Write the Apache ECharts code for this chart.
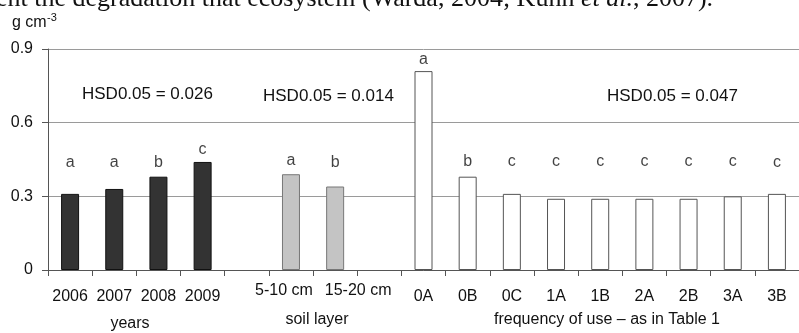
<!DOCTYPE html>
<html>
<head>
<meta charset="utf-8">
<script src="https://cdn.jsdelivr.net/npm/echarts@6/dist/echarts.min.js"></script>
<style>
html,body{margin:0;padding:0;background:#fff;}
#c{width:799px;height:333px;}
</style>
</head>
<body>
<div id="c"></div>
<script>
// ---- data ----
const yearCats = ['2006', '2007', '2008', '2009'];
const yearVals = [0.31, 0.33, 0.38, 0.44];
const yearLetters = ['a', 'a', 'b', 'c'];
const yearLetterY = [0.437, 0.437, 0.437, 0.491];

const soilCats = ['5-10 cm', '15-20 cm'];
const soilVals = [0.39, 0.34];
const soilLetters = ['a', 'b'];
const soilLetterY = [0.447, 0.437];

const freqCats = ['0A', '0B', '0C', '1A', '1B', '2A', '2B', '3A', '3B'];
const freqVals = [0.81, 0.38, 0.31, 0.29, 0.29, 0.29, 0.29, 0.30, 0.31];
const freqLetters = ['a', 'b', 'c', 'c', 'c', 'c', 'c', 'c', 'c'];
const freqLetterY = [0.858, 0.443, 0.443, 0.443, 0.443, 0.443, 0.443, 0.443, 0.437];

const hsdTexts = ['HSD0.05 = 0.026', 'HSD0.05 = 0.014', 'HSD0.05 = 0.047'];
const groupNames = ['years', 'soil layer', 'frequency of use \u2013 as in Table 1'];
const yTicks = [0, 0.3, 0.6, 0.9];
const unitText = 'g cm';
const unitSup = '-3';
const headerText = ['ent the degradation that ecosystem (Warda, 2004; Kuhn ', 'et al.', ', 2007).'];

// ---- build ----
const categories = [...yearCats, '', ...soilCats, ' ', ...freqCats];
const n = categories.length;
function place(vals, start) {
  const arr = new Array(n).fill(null);
  vals.forEach((v, i) => arr[start + i] = v);
  return arr;
}
const soilStart = yearCats.length + 1;
const freqStart = soilStart + soilCats.length + 1;
const yearSeries = place(yearVals, 0);
const soilSeries = place(soilVals, soilStart);
const freqSeries = place(freqVals, freqStart);
const letterVals = place(yearLetterY, 0);
soilLetterY.forEach((v, i) => letterVals[soilStart + i] = v);
freqLetterY.forEach((v, i) => letterVals[freqStart + i] = v);
const letters = new Array(n).fill('');
yearLetters.forEach((v, i) => letters[i] = v);
soilLetters.forEach((v, i) => letters[soilStart + i] = v);
freqLetters.forEach((v, i) => letters[freqStart + i] = v);

const FONT = 'Liberation Sans, Arial, sans-serif';
const SERIF = 'Liberation Serif, Times New Roman, serif';
const chart = echarts.init(document.getElementById('c'), null, {renderer: 'canvas'});

const option = {
  animation: false,
  backgroundColor: '#fff',
  grid: {left: 48, top: 49, width: 756, height: 221, containLabel: false},
  xAxis: {
    type: 'category',
    data: categories,
    axisLine: {lineStyle: {color: '#555', width: 1}},
    axisTick: {show: true, length: 6, lineStyle: {color: '#555'}},
    axisLabel: {
      color: '#111', fontSize: 16, fontFamily: FONT, margin: 13, interval: 0,
      formatter: (v, i) => {
        if (i === soilStart) return '{sl|' + v + '}';
        if (i === soilStart + 1) return '{sr|' + v + '}';
        return '{d|' + v + '}';
      },
      rich: {
        d: {fontSize: 16, fontFamily: FONT, color: '#111', padding: [6, 0, 0, 0]},
        sl: {fontSize: 16, fontFamily: FONT, color: '#111', padding: [0, 14, 0, 0]},
        sr: {fontSize: 16, fontFamily: FONT, color: '#111', padding: [0, 0, 0, 46]}
      }
    }
  },
  yAxis: {
    type: 'value',
    min: yTicks[0],
    max: yTicks[yTicks.length - 1],
    interval: 0.3,
    axisLine: {show: true, lineStyle: {color: '#555', width: 1}},
    axisTick: {show: true, length: 6, lineStyle: {color: '#555'}},
    axisLabel: {color: '#111', fontSize: 16, fontFamily: FONT, margin: 15,
      formatter: v => (v === 0 ? '0' : v.toFixed(1))},
    splitLine: {show: true, lineStyle: {color: '#9a9a9a', width: 1}}
  },
  series: [
    {type: 'bar', data: yearSeries, barWidth: 18, barGap: '-100%',
      itemStyle: {color: '#333333', borderColor: '#111', borderWidth: 1}},
    {type: 'bar', data: soilSeries, barWidth: 18, barGap: '-100%',
      itemStyle: {color: '#c4c4c4', borderColor: '#777', borderWidth: 1}},
    {type: 'bar', data: freqSeries, barWidth: 18, barGap: '-100%',
      itemStyle: {color: '#ffffff', borderColor: '#555', borderWidth: 1}},
    {type: 'scatter', data: letterVals, symbolSize: 0, silent: true, z: 5,
      label: {show: true, position: 'inside', color: '#111', fontSize: 16, fontFamily: FONT,
        formatter: p => letters[p.dataIndex]}}
  ],
  graphic: [
    {type: 'text', left: -4, top: -14, silent: true,
      style: {
        text: '{n|' + headerText[0] + '}{i|' + headerText[1] + '}{n|' + headerText[2] + '}',
        rich: {
          n: {fontFamily: SERIF, fontSize: 26, fill: '#111'},
          i: {fontFamily: SERIF, fontSize: 26, fontStyle: 'italic', fill: '#111'}
        }
      }},
    {type: 'text', left: 12, top: 14.5, silent: true,
      style: {text: unitText, fontFamily: FONT, fontSize: 16, fill: '#111'}},
    {type: 'text', left: 47, top: 12, silent: true,
      style: {text: unitSup, fontFamily: FONT, fontSize: 11, fill: '#111'}},
    {type: 'text', left: 82, top: 86, silent: true,
      style: {text: hsdTexts[0], fontFamily: FONT, fontSize: 17, fill: '#111'}},
    {type: 'text', left: 263, top: 88, silent: true,
      style: {text: hsdTexts[1], fontFamily: FONT, fontSize: 17, fill: '#111'}},
    {type: 'text', left: 607, top: 88, silent: true,
      style: {text: hsdTexts[2], fontFamily: FONT, fontSize: 17, fill: '#111'}},
    {type: 'text', x: 130, y: 324, silent: true,
      style: {text: groupNames[0], fontFamily: FONT, fontSize: 16, fill: '#111', textAlign: 'center', textVerticalAlign: 'middle'}},
    {type: 'text', x: 317, y: 320, silent: true,
      style: {text: groupNames[1], fontFamily: FONT, fontSize: 16, fill: '#111', textAlign: 'center', textVerticalAlign: 'middle'}},
    {type: 'text', x: 607, y: 320, silent: true,
      style: {text: groupNames[2], fontFamily: FONT, fontSize: 16, fill: '#111', textAlign: 'center', textVerticalAlign: 'middle'}}
  ]
};
chart.setOption(option);
</script>
</body>
</html>
